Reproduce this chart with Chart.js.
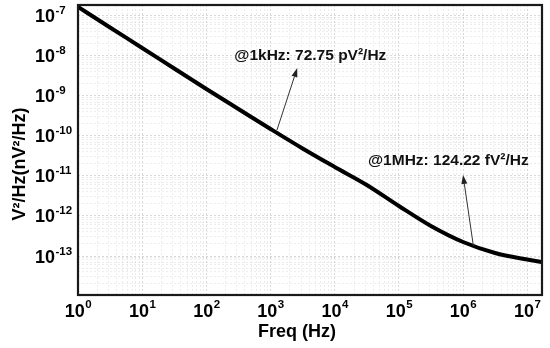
<!DOCTYPE html>
<html>
<head>
<meta charset="utf-8">
<script src="https://cdn.jsdelivr.net/npm/chart.js@4.4.0/dist/chart.umd.min.js"></script>
<style>
  html, body { margin: 0; padding: 0; background: #fff; }
  #wrap { width: 550px; height: 348px; }
</style>
</head>
<body>
<div id="wrap"><canvas id="psdChart" width="550" height="348"></canvas></div>
<script>
// Noise PSD vs frequency (log-log)
const freqs = [1, 3.16, 10, 31.6, 100, 316, 1e3, 3.16e3, 1e4, 3.16e4, 1e5, 3.16e5, 1e6, 3.16e6, 1e7, 1.7e7];
const psd = [1.68e-7, 5.16e-8, 1.585e-8, 4.87e-9, 1.496e-9, 4.73e-10, 1.496e-10, 4.87e-11, 1.68e-11, 5.96e-12, 1.778e-12, 5.62e-13, 2.24e-13, 1.19e-13, 8.18e-14, 7.08e-14];

const xDecades = [0, 1, 2, 3, 4, 5, 6, 7];
const yDecades = [-7, -8, -9, -10, -11, -12, -13];

const annoText = ['@1kHz: 72.75 pV²/Hz', '@1MHz: 124.22 fV²/Hz'];
const annoTextAt = [[4170, 1.0e-8], [5.9e5, 2.37e-11]];
const arrowFrom = [[1260, 1.41e-10], [1.45e6, 1.78e-13]];
const arrowTo = [[2610, 5.0e-9], [1.0e6, 1.06e-11]];

const FONT = '"Liberation Sans", Arial, sans-serif';

function isDecade(v) {
    const l = Math.log10(v);
    return Math.abs(l - Math.round(l)) < 1e-6;
}

function keepIntegerTicks(scale) {
    scale.ticks = scale.ticks.filter(t => {
        const e = Math.floor(Math.log10(t.value) + 1e-9);
        const m = t.value / Math.pow(10, e);
        return Math.abs(m - Math.round(m)) < 1e-6;
    });
}

function drawPow(ctx, exp, x, y, align, raise) {
    ctx.font = 'bold 18px ' + FONT;
    const wb = ctx.measureText('10').width;
    ctx.font = 'bold 11.5px ' + FONT;
    const we = ctx.measureText(String(exp)).width;
    const left = align === 'center' ? x - (wb + we) / 2 : x;
    ctx.textAlign = 'left';
    ctx.textBaseline = 'alphabetic';
    ctx.font = 'bold 18px ' + FONT;
    ctx.fillText('10', left, y);
    ctx.font = 'bold 11.5px ' + FONT;
    ctx.fillText(String(exp), left + wb + 0.5, y - raise);
}

const decorPlugin = {
    id: 'decor',
    afterDatasetsDraw(chart) {
        const { ctx, chartArea: a, scales: { x, y } } = chart;
        ctx.save();

        // arrows
        ctx.strokeStyle = '#333';
        ctx.fillStyle = '#222';
        ctx.lineWidth = 1;
        arrowFrom.forEach((from, i) => {
            const x0 = x.getPixelForValue(from[0]), y0 = y.getPixelForValue(from[1]);
            const x1 = x.getPixelForValue(arrowTo[i][0]), y1 = y.getPixelForValue(arrowTo[i][1]);
            const ang = Math.atan2(y1 - y0, x1 - x0);
            const hl = 9, hw = 3;
            const bx = x1 - hl * Math.cos(ang), by = y1 - hl * Math.sin(ang);
            ctx.beginPath();
            ctx.moveTo(x0, y0);
            ctx.lineTo(bx, by);
            ctx.stroke();
            ctx.beginPath();
            ctx.moveTo(x1, y1);
            ctx.lineTo(bx + hw * Math.sin(ang), by - hw * Math.cos(ang));
            ctx.lineTo(bx - hw * Math.sin(ang), by + hw * Math.cos(ang));
            ctx.closePath();
            ctx.fill();
        });

        // annotation text
        ctx.fillStyle = '#111';
        ctx.font = 'bold 15.5px ' + FONT;
        ctx.textAlign = 'center';
        ctx.textBaseline = 'middle';
        annoText.forEach((t, i) => {
            ctx.fillText(t, x.getPixelForValue(annoTextAt[i][0]), y.getPixelForValue(annoTextAt[i][1]));
        });

        // plot frame
        ctx.strokeStyle = '#1a1a1a';
        ctx.lineWidth = 2.2;
        ctx.strokeRect(a.left, a.top, a.right - a.left, a.bottom - a.top);

        // tick labels
        ctx.fillStyle = '#000';
        xDecades.forEach(d => drawPow(ctx, d, x.getPixelForValue(Math.pow(10, d)), 317, 'center', 9));
        yDecades.forEach(d => drawPow(ctx, d, 35, y.getPixelForValue(Math.pow(10, d)) + 6.5, 'left', 8));

        // axis titles
        ctx.font = 'bold 18px ' + FONT;
        ctx.textAlign = 'center';
        ctx.textBaseline = 'alphabetic';
        ctx.fillText('Freq (Hz)', 297, 337);
        ctx.translate(25, 164);
        ctx.rotate(-Math.PI / 2);
        ctx.fillText('V²/Hz(nV²/Hz)', 0, 0);
        ctx.restore();
    }
};

const gridColor = c => isDecade(c.tick.value) ? 'rgba(0,0,0,0.15)' : 'rgba(0,0,0,0.075)';

new Chart(document.getElementById('psdChart').getContext('2d'), {
    type: 'line',
    data: {
        datasets: [{
            label: 'PSD',
            data: freqs.map((f, i) => ({ x: f, y: psd[i] })),
            borderColor: '#000',
            borderWidth: 4,
            pointRadius: 0,
            fill: false,
            cubicInterpolationMode: 'monotone'
        }]
    },
    options: {
        responsive: false,
        animation: false,
        layout: { padding: { top: 5, right: 8, left: 0, bottom: 0 } },
        plugins: { legend: { display: false }, tooltip: { enabled: false } },
        scales: {
            x: {
                type: 'logarithmic',
                min: 1,
                max: 1.7e7,
                afterBuildTicks: keepIntegerTicks,
                afterFit: s => { s.height = 53; },
                ticks: { display: false },
                grid: { color: gridColor, lineWidth: 1, drawTicks: false },
                border: { display: false, dash: [2, 2] }
            },
            y: {
                type: 'logarithmic',
                min: 1.06e-14,
                max: 1.88e-7,
                afterBuildTicks: keepIntegerTicks,
                afterFit: s => { s.width = 78; },
                ticks: { display: false },
                grid: { color: gridColor, lineWidth: 1, drawTicks: false },
                border: { display: false, dash: [2, 2] }
            }
        }
    },
    plugins: [decorPlugin]
});
</script>
</body>
</html>
